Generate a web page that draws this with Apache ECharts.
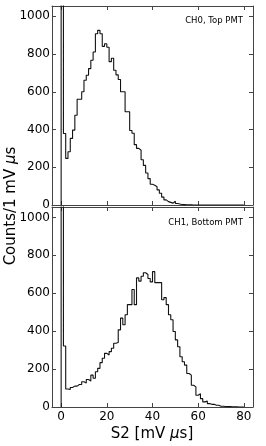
<!DOCTYPE html>
<html>
<head>
<meta charset="utf-8">
<script src="https://cdn.jsdelivr.net/npm/echarts@6/dist/echarts.min.js"></script>
<style>
html,body{margin:0;padding:0;background:#fff;}
#chart{width:266px;height:446px;}
</style>
</head>
<body>
<div id="chart"></div>
<script>
// Histogram bins: width 1 mV us, left edges 0,1,2,...
var binWidth = 1;
var topCounts = [1500, 379, 247, 282, 353, 397, 476, 561, 561, 600,
  661, 688, 723, 767, 811, 908, 926, 908, 841, 855,
  836, 760, 778, 714, 690, 665, 600, 600, 494, 494,
  395, 380, 320, 300, 290, 240, 210, 170, 140, 110,
  105, 97, 80, 62, 42, 27, 18, 14, 10, 20,
  8, 5, 3, 2, 1, 1, 1, 0, 0, 0,
  0, 0, 0, 0, 0, 0, 0, 0, 0, 0,
  0, 0, 0, 0, 0, 0, 0, 0, 0, 0];
var bottomCounts = [1500, 322, 95, 92, 103, 110, 110, 119, 119, 133,
  126, 145, 137, 168, 152, 186, 204, 234, 257, 283,
  274, 292, 310, 336, 340, 407, 469, 434, 487, 540,
  540, 620, 540, 681, 664, 690, 708, 699, 678, 660,
  714, 656, 656, 656, 566, 577, 540, 487, 460, 398,
  354, 318, 265, 239, 221, 177, 168, 115, 106, 62,
  70, 44, 27, 32, 18, 14, 14, 9, 9, 4,
  4, 3, 2, 2, 1, 1, 1, 0, 0, 0];
var xTicks = [0, 20, 40, 60, 80];
var yTicks = [0, 200, 400, 600, 800, 1000];
var xRange = [-4, 84];
var yMax = 1055;
var topLabel = 'CH0, Top PMT';
var bottomLabel = 'CH1, Bottom PMT';

function stepData(counts) {
  var d = [[0, 0]];
  for (var i = 0; i < counts.length; i++) d.push([i * binWidth, counts[i]]);
  d.push([counts.length * binWidth, 0]);
  return d;
}

var font = 'DejaVu Sans';
var lineCol = '#444';
function plain(v) { return String(v); }

function xAxisDef(gridIndex, position, showLabels) {
  return {
    type: 'value', gridIndex: gridIndex, position: position,
    min: xRange[0], max: xRange[1],
    axisLine: {show: true, onZero: false, lineStyle: {color: lineCol, width: 1}},
    axisTick: {show: true, inside: true, length: 4, customValues: xTicks, lineStyle: {color: lineCol, width: 1}},
    axisLabel: {show: showLabels, customValues: xTicks, formatter: plain, fontFamily: font, fontSize: 12, color: '#000', margin: 4},
    splitLine: {show: false}
  };
}
function yAxisDef(gridIndex, position, showLabels) {
  return {
    type: 'value', gridIndex: gridIndex, position: position,
    min: 0, max: yMax,
    axisLine: {show: true, onZero: false, lineStyle: {color: lineCol, width: 1}},
    axisTick: {show: true, inside: true, length: 4, customValues: yTicks, lineStyle: {color: lineCol, width: 1}},
    axisLabel: {show: showLabels, customValues: yTicks, formatter: plain, fontFamily: font, fontSize: 12, color: '#000', margin: 2},
    splitLine: {show: false}
  };
}

var chart = echarts.init(document.getElementById('chart'), null, {renderer: 'canvas'});
chart.setOption({
  animation: false,
  backgroundColor: '#fff',
  grid: [
    {left: 52, top: 6, width: 201, height: 199},
    {left: 52, top: 207, width: 201, height: 200}
  ],
  xAxis: [
    xAxisDef(0, 'bottom', false),
    xAxisDef(1, 'bottom', true),
    xAxisDef(0, 'top', false),
    xAxisDef(1, 'top', false)
  ],
  yAxis: [
    yAxisDef(0, 'left', true),
    yAxisDef(1, 'left', true),
    yAxisDef(0, 'right', false),
    yAxisDef(1, 'right', false)
  ],
  series: [
    {type: 'line', xAxisIndex: 0, yAxisIndex: 0, data: stepData(topCounts), step: 'end',
     showSymbol: false, symbol: 'none', lineStyle: {color: '#111', width: 1.1}, clip: true},
    {type: 'line', xAxisIndex: 1, yAxisIndex: 1, data: stepData(bottomCounts), step: 'end',
     showSymbol: false, symbol: 'none', lineStyle: {color: '#111', width: 1.1}, clip: true}
  ],
  graphic: [
    {type: 'text', x: 243, y: 21, style: {text: topLabel, font: '8.5px "DejaVu Sans"', fill: '#000', align: 'right', verticalAlign: 'middle'}},
    {type: 'text', x: 243, y: 223, style: {text: bottomLabel, font: '8.5px "DejaVu Sans"', fill: '#000', align: 'right', verticalAlign: 'middle'}},
    {type: 'text', x: 152, y: 434, style: {text: 'S2 [mV {it|μ}s]', font: '15px "DejaVu Sans"', fill: '#000', align: 'center', verticalAlign: 'middle',
      rich: {it: {fontStyle: 'italic', fontFamily: font, fontSize: 15}}}},
    {type: 'text', x: 11, y: 206, rotation: Math.PI / 2, style: {text: 'Counts/1 mV {it|μ}s', font: '15px "DejaVu Sans"', fill: '#000', align: 'center', verticalAlign: 'middle',
      rich: {it: {fontStyle: 'italic', fontFamily: font, fontSize: 15}}}}
  ]
});
</script>
</body>
</html>
